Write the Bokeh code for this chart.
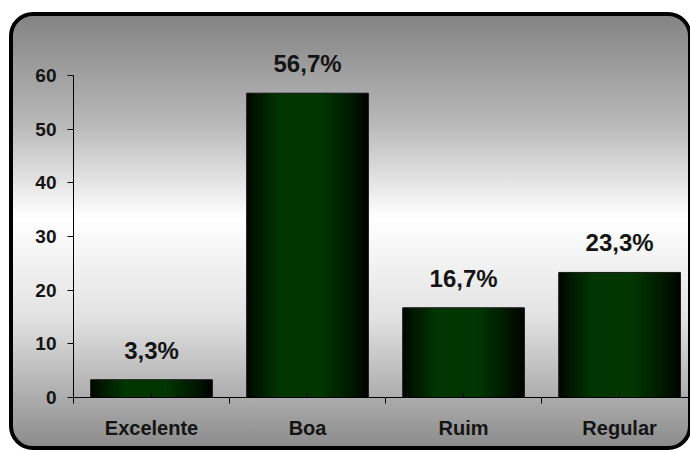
from bokeh.plotting import figure
from bokeh.models import FixedTicker, Range1d, LabelSet, ColumnDataSource
from bokeh.core.properties import value
from bokeh.embed import file_html
from bokeh.resources import INLINE

# ---- data ----
categories = ["Excelente", "Boa", "Ruim", "Regular"]
values = [3.3, 56.7, 16.7, 23.3]
value_labels = ["3,3%", "56,7%", "16,7%", "23,3%"]
y_ticks = [0, 10, 20, 30, 40, 50, 60]

FONT = "Liberation Sans"
TXT = "#141414"

p = figure(width=683, height=438,
           x_range=Range1d(0, 3.98), y_range=Range1d(0, 67.45),
           output_backend="svg", toolbar_location=None,
           min_border_left=60, min_border_right=2,
           min_border_top=19, min_border_bottom=57)
p.margin = (12, 0, 0, 9)
p.styles = {
    "background": "linear-gradient(to bottom, #848484 0%, #b8b8b8 25%, #ffffff 47%, #e2e2e2 70%, #8c8c8c 100%)",
    "border": "4px solid #000000",
    "border-radius": "24px",
    "box-sizing": "border-box",
}
p.background_fill_alpha = 0
p.border_fill_alpha = 0
p.outline_line_color = None
p.grid.visible = False

centers = [i + 0.5 for i in range(len(values))]
bar_w = 0.78

# base bar (prevents seams between strips)
p.vbar(x=centers, top=values, width=bar_w, bottom=0, fill_color="#001400", line_color=None)

# ---- horizontal gradient built from strips ----
N = 30
xs, tops, ws, cols = [], [], [], []
for i, v in enumerate(values):
    for k in range(N):
        t = (k + 0.5) / N
        if t < 0.3:
            f = t / 0.3
        elif t < 0.62:
            f = 1.0
        else:
            f = max(0.0, (1 - t) / 0.38)
        f = f ** 0.75
        g = int(round(54 * f))
        xs.append(centers[i] - bar_w / 2 + t * bar_w)
        tops.append(v)
        ws.append(bar_w / N * 1.6)
        cols.append("#%02x%02x%02x" % (0, g, 0))
# keep strips inside the bar edges
for j in range(len(xs)):
    i = j // N
    left = centers[i] - bar_w / 2
    right = centers[i] + bar_w / 2
    lo = max(left, xs[j] - ws[j] / 2)
    hi = min(right, xs[j] + ws[j] / 2)
    xs[j] = (lo + hi) / 2
    ws[j] = hi - lo
p.vbar(x=xs, top=tops, width=ws, bottom=0, fill_color=cols, line_color=None)
p.vbar(x=centers, top=values, width=bar_w, bottom=0,
       fill_alpha=0, line_color="#1e1e1e", line_width=1)

# ---- data labels ----
src = ColumnDataSource(dict(x=centers, y=values, t=value_labels))
p.add_layout(LabelSet(x="x", y="y", text="t", source=src, y_offset=21,
                      text_align="center", text_baseline="alphabetic",
                      text_font=value(FONT), text_font_style="bold",
                      text_font_size="24px", text_color=TXT))

# ---- axes ----
xa = p.xaxis[0]
xa.ticker = FixedTicker(ticks=centers, minor_ticks=list(range(len(categories) + 1)))
xa.major_label_overrides = {c_x: c for c_x, c in zip(centers, categories)}
xa.major_tick_in = 4
xa.major_tick_out = 0
xa.minor_tick_in = 0
xa.minor_tick_out = 6
xa.major_label_standoff = 13
xa.axis_line_color = "black"
xa.major_tick_line_color = "black"
xa.minor_tick_line_color = "black"
xa.major_label_text_font = FONT
xa.major_label_text_font_style = "bold"
xa.major_label_text_font_size = "20px"
xa.major_label_text_color = TXT

ya = p.yaxis[0]
ya.ticker = FixedTicker(ticks=y_ticks, minor_ticks=[])
ya.bounds = (0, 60)
ya.major_tick_in = 0
ya.major_tick_out = 6
ya.major_label_standoff = 11
ya.axis_line_color = "black"
ya.major_tick_line_color = "black"
ya.major_label_text_font = FONT
ya.major_label_text_font_style = "bold"
ya.major_label_text_font_size = "19px"
ya.major_label_text_color = TXT

open("out.html", "w").write(file_html(p, INLINE))
